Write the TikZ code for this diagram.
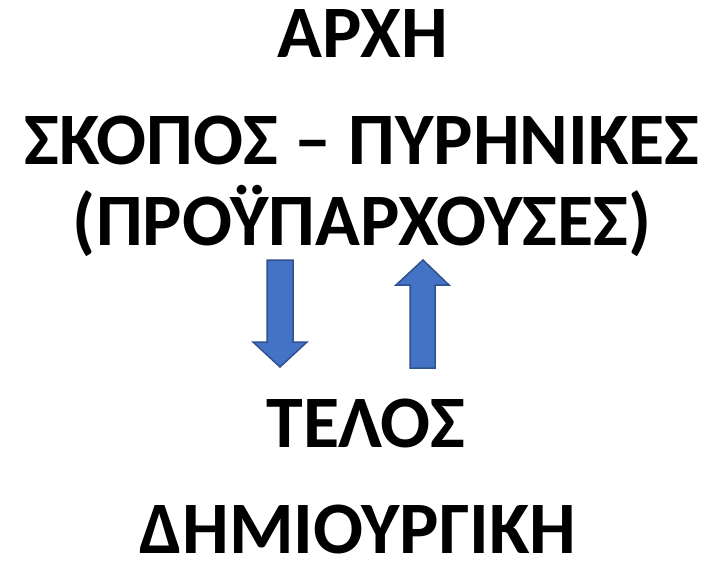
\documentclass[tikz,border=0pt]{standalone}
\usepackage{fontspec}
\setmainfont{Carlito}
\usepackage{tikz}

\definecolor{arrowblue}{RGB}{68,114,196}
\definecolor{arrowedge}{RGB}{47,82,143}

\begin{document}
\begin{tikzpicture}[x=1pt,y=1pt]
\tikzstyle{every node}+=[inner sep=0pt]
\tikzstyle{word}=[anchor=base,text depth=0pt,font=\fontsize{74}{80}\selectfont\bfseries]
\tikzstyle{blockarrow}=[fill=arrowblue,draw=arrowedge,line width=1.5pt,line join=miter]
\useasboundingbox (0,0) rectangle (711,-563);
\draw (363,-57) node [word] (arxh) {ΑΡΧΗ};
\draw (362,-164) node [word] (skopos) {ΣΚΟΠΟΣ – ΠΥΡΗΝΙΚΕΣ};
\draw (362,-245) node [word] (proyp) {(ΠΡΟΫΠΑΡΧΟΥΣΕΣ)};
\draw (366,-447) node [word] (telos) {ΤΕΛΟΣ};
\draw (358,-553) node [word] (dhmiourgikh) {ΔΗΜΙΟΥΡΓΙΚΗ};
% down arrow
\draw [blockarrow] (267,-260) -- (293,-260) -- (293,-342) -- (307,-342) -- (280,-367) -- (253,-342) -- (267,-342) -- cycle;
% up arrow
\draw [blockarrow] (423,-260) -- (449,-285) -- (435,-285) -- (435,-368) -- (410,-368) -- (410,-285) -- (396,-285) -- cycle;
\end{tikzpicture}
\end{document}
